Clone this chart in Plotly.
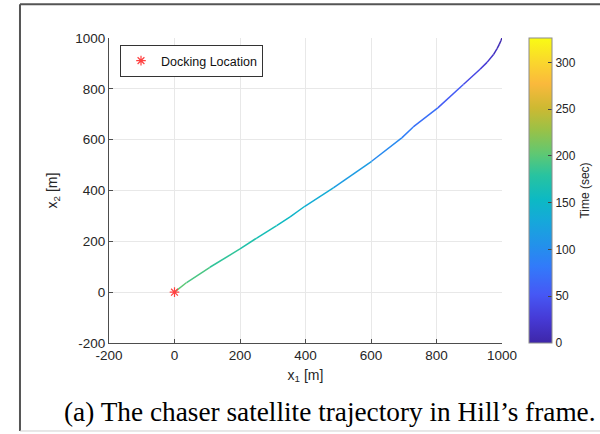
import plotly.graph_objects as go
from plotly.colors import sample_colorscale

# Trajectory in Hill's frame
x1 = [1000, 997, 992, 985, 974, 955, 933, 882, 804, 729, 694, 602, 485, 398, 353, 312, 251, 200, 108, 37, 0, 0]
x2 = [1000, 990, 976, 958, 935, 905, 877, 817, 725, 650, 607, 515, 410, 338, 296, 262, 213, 170, 98, 38, 0, 0]
t_sec = [0, 3, 7, 11, 16, 23, 30, 45, 64, 80, 88, 106, 128, 143, 151, 158, 168, 176, 189, 198, 203, 326]

dock_x = [0]
dock_y = [0]

x_ticks = [-200, 0, 200, 400, 600, 800, 1000]
y_ticks = [-200, 0, 200, 400, 600, 800, 1000]
tick_text = ["-200", "0", "200", "400", "600", "800", "1000"]
cb_ticks = [0, 50, 100, 150, 200, 250, 300]

parula = [
    [0.00, "rgb(62,38,168)"],
    [0.08, "rgb(70,58,214)"],
    [0.16, "rgb(70,88,245)"],
    [0.25, "rgb(50,122,250)"],
    [0.32, "rgb(35,145,235)"],
    [0.40, "rgb(22,168,218)"],
    [0.47, "rgb(12,185,196)"],
    [0.55, "rgb(40,195,160)"],
    [0.62, "rgb(95,200,115)"],
    [0.70, "rgb(155,193,70)"],
    [0.77, "rgb(205,185,50)"],
    [0.85, "rgb(250,185,60)"],
    [0.92, "rgb(250,214,45)"],
    [1.00, "rgb(249,251,20)"],
]

FONT = "Liberation Sans, Arial"
cmax = max(t_sec)
fig = go.Figure()

for i in range(len(x1) - 1):
    tm = 0.5 * (t_sec[i] + t_sec[i + 1]) / cmax
    col = sample_colorscale(parula, [tm])[0]
    fig.add_trace(go.Scatter(
        x=[x1[i], x1[i + 1]], y=[x2[i], x2[i + 1]], mode="lines",
        line=dict(color=col, width=1.5), showlegend=False, hoverinfo="skip"))

# colorbar carrier
fig.add_trace(go.Scatter(
    x=[None], y=[None], mode="markers", showlegend=False,
    marker=dict(color=[0, cmax], colorscale=parula, cmin=0, cmax=cmax, showscale=True,
                colorbar=dict(
                    x=1.0687, xanchor="left", xpad=0, ypad=0,
                    y=0.5, yanchor="middle", len=1.0, lenmode="fraction",
                    thickness=23, outlinewidth=1, outlinecolor="#8c8c8c",
                    tickvals=cb_ticks, ticks="inside", ticklen=4, tickcolor="#444",
                    tickfont=dict(family=FONT, size=12, color="#262626"),
                    title=dict(text="Time (sec)", side="right",
                               font=dict(family=FONT, size=12, color="#262626")),
                ))))

fig.add_trace(go.Scatter(
    x=dock_x, y=dock_y, mode="markers", name="Docking Location",
    marker=dict(symbol="asterisk-open", size=8, color="#ff4040", line=dict(color="#ff4040", width=1.2))))

axis_common = dict(
    showgrid=True, gridcolor="#e8e8e8", gridwidth=1, zeroline=False,
    showline=True, linecolor="#4d4d4d", linewidth=1, mirror=False,
    ticks="inside", ticklen=4, tickcolor="#4d4d4d",
    tickfont=dict(family=FONT, size=13.5, color="#262626"),
)

fig.update_layout(
    width=600, height=434,
    margin=dict(l=109, r=98, t=38, b=91, autoexpand=False),
    paper_bgcolor="white", plot_bgcolor="white",
    xaxis=dict(range=[-200, 1000], tickvals=x_ticks, ticktext=tick_text, **axis_common,
               title=dict(text="x<sub>1</sub> [m]", standoff=7,
                          font=dict(family=FONT, size=14, color="#262626"))),
    yaxis=dict(range=[-200, 1000], tickvals=y_ticks, ticktext=tick_text, **axis_common,
               title=dict(text="x<sub>2</sub> [m]", standoff=14,
                          font=dict(family=FONT, size=14, color="#262626"))),
    legend=dict(x=0.028, y=0.977, xanchor="left", yanchor="top",
                bgcolor="white", bordercolor="#333", borderwidth=1,
                font=dict(family=FONT, size=12.5, color="#111"),
                itemwidth=30, tracegroupgap=0),
    showlegend=True,
)

# caption
fig.add_annotation(text="(a) The chaser satellite trajectory in Hill\u2019s frame.",
                   xref="paper", yref="paper", x=0.5623, y=-0.226,
                   xanchor="center", yanchor="middle", showarrow=False,
                   font=dict(family="Liberation Serif, Times New Roman", size=27.3, color="#000"))

# page frame
fig.add_shape(type="line", xref="paper", yref="paper", x0=-0.2265, x1=-0.2265, y0=-0.2885, y1=1.111,
              line=dict(color="#555", width=2))
fig.add_shape(type="line", xref="paper", yref="paper", x0=-0.2265, x1=1.3, y0=1.111, y1=1.111,
              line=dict(color="#555", width=2))
fig.add_shape(type="line", xref="paper", yref="paper", x0=-0.2265, x1=1.3, y0=-0.2885, y1=-0.2885,
              line=dict(color="#cfcfcf", width=1))

fig.write_html("out.html")
